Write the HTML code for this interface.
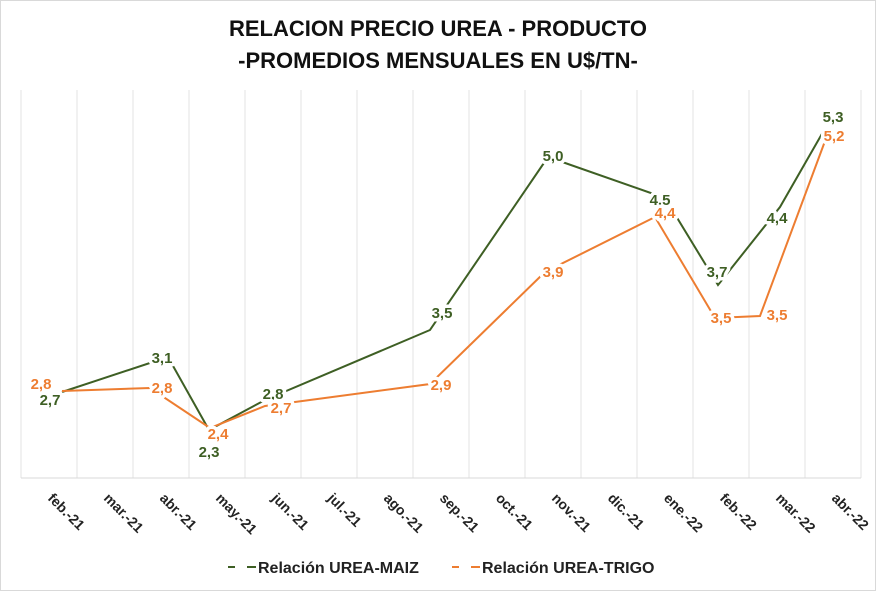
<!DOCTYPE html>
<html><head><meta charset="utf-8"><style>
html,body{margin:0;padding:0;background:#fff;}
svg{display:block;font-family:"Liberation Sans",sans-serif;}
.g{fill:#3e5f24;font-weight:bold;font-size:15px;}
.o{fill:#ed7d31;font-weight:bold;font-size:15px;}
.lbl text{paint-order:stroke;stroke:#fff;stroke-width:7px;stroke-linejoin:round;}
.ax{font-size:14px;font-weight:bold;fill:#222;}
</style></head><body>
<svg width="876" height="591" viewBox="0 0 876 591">
<rect x="0.5" y="0.5" width="875" height="590" fill="#fff" stroke="#d9d9d9"/>
<text x="438" y="36" text-anchor="middle" font-size="22" font-weight="bold" fill="#111">RELACION PRECIO UREA - PRODUCTO</text>
<text x="438" y="68" text-anchor="middle" font-size="22" font-weight="bold" fill="#111">-PROMEDIOS MENSUALES EN U$/TN-</text>
<g stroke="#e3e3e3" stroke-width="1">
<line x1="21" y1="90" x2="21" y2="478"/><line x1="77" y1="90" x2="77" y2="478"/><line x1="133" y1="90" x2="133" y2="478"/><line x1="189" y1="90" x2="189" y2="478"/><line x1="245" y1="90" x2="245" y2="478"/><line x1="301" y1="90" x2="301" y2="478"/><line x1="357" y1="90" x2="357" y2="478"/><line x1="413" y1="90" x2="413" y2="478"/><line x1="469" y1="90" x2="469" y2="478"/><line x1="525" y1="90" x2="525" y2="478"/><line x1="581" y1="90" x2="581" y2="478"/><line x1="637" y1="90" x2="637" y2="478"/><line x1="693" y1="90" x2="693" y2="478"/><line x1="749" y1="90" x2="749" y2="478"/><line x1="805" y1="90" x2="805" y2="478"/><line x1="861" y1="90" x2="861" y2="478"/>
<line x1="21" y1="478" x2="861" y2="478" stroke="#d9d9d9"/>
</g>
<polyline fill="none" stroke="#3e5f24" stroke-width="2" points="62,392 168,357 209,430 265,400 430,330 548,157 665,198 718,285 780,207 823,132"/>
<polyline fill="none" stroke="#ed7d31" stroke-width="2" points="62,391 150,388 210,428 265,406 430,384 545,272 655,217 715,318 760,316 828,133"/>
<g class="lbl">
<text class="o" x="41" y="389" text-anchor="middle">2,8</text>
<text class="g" x="50" y="405" text-anchor="middle">2,7</text>
<text class="g" x="162" y="363" text-anchor="middle">3,1</text>
<text class="o" x="162" y="393" text-anchor="middle">2,8</text>
<text class="g" x="209" y="457" text-anchor="middle">2,3</text>
<text class="o" x="218" y="439" text-anchor="middle">2,4</text>
<text class="g" x="273" y="399" text-anchor="middle">2,8</text>
<text class="o" x="281" y="413" text-anchor="middle">2,7</text>
<text class="g" x="442" y="318" text-anchor="middle">3,5</text>
<text class="o" x="441" y="390" text-anchor="middle">2,9</text>
<text class="g" x="553" y="161" text-anchor="middle">5,0</text>
<text class="o" x="553" y="277" text-anchor="middle">3,9</text>
<text class="g" x="660" y="205" text-anchor="middle">4,5</text>
<text class="o" x="665" y="218" text-anchor="middle">4,4</text>
<text class="g" x="717" y="277" text-anchor="middle">3,7</text>
<text class="o" x="721" y="323" text-anchor="middle">3,5</text>
<text class="g" x="777" y="223" text-anchor="middle">4,4</text>
<text class="o" x="777" y="320" text-anchor="middle">3,5</text>
<text class="g" x="833" y="122" text-anchor="middle">5,3</text>
<text class="o" x="834" y="141" text-anchor="middle">5,2</text>
</g>
<g class="ax">
<text transform="translate(47,499) rotate(45)">feb.-21</text>
<text transform="translate(103,499) rotate(45)">mar.-21</text>
<text transform="translate(159,499) rotate(45)">abr.-21</text>
<text transform="translate(215,499) rotate(45)">may.-21</text>
<text transform="translate(271,499) rotate(45)">jun.-21</text>
<text transform="translate(327,499) rotate(45)">jul.-21</text>
<text transform="translate(383,499) rotate(45)">ago.-21</text>
<text transform="translate(439,499) rotate(45)">sep.-21</text>
<text transform="translate(495,499) rotate(45)">oct.-21</text>
<text transform="translate(551,499) rotate(45)">nov.-21</text>
<text transform="translate(607,499) rotate(45)">dic.-21</text>
<text transform="translate(663,499) rotate(45)">ene.-22</text>
<text transform="translate(719,499) rotate(45)">feb.-22</text>
<text transform="translate(775,499) rotate(45)">mar.-22</text>
<text transform="translate(831,499) rotate(45)">abr.-22</text>
</g>
<g>
<line x1="228" y1="567" x2="235" y2="567" stroke="#3e5f24" stroke-width="2"/>
<line x1="247" y1="567" x2="256" y2="567" stroke="#3e5f24" stroke-width="2"/>
<text x="258" y="573" font-size="16" font-weight="bold" fill="#222">Relación UREA-MAIZ</text>
<line x1="452" y1="567" x2="459" y2="567" stroke="#ed7d31" stroke-width="2"/>
<line x1="471" y1="567" x2="480" y2="567" stroke="#ed7d31" stroke-width="2"/>
<text x="482" y="573" font-size="16" font-weight="bold" fill="#222">Relación UREA-TRIGO</text>
</g>
</svg>
</body></html>
